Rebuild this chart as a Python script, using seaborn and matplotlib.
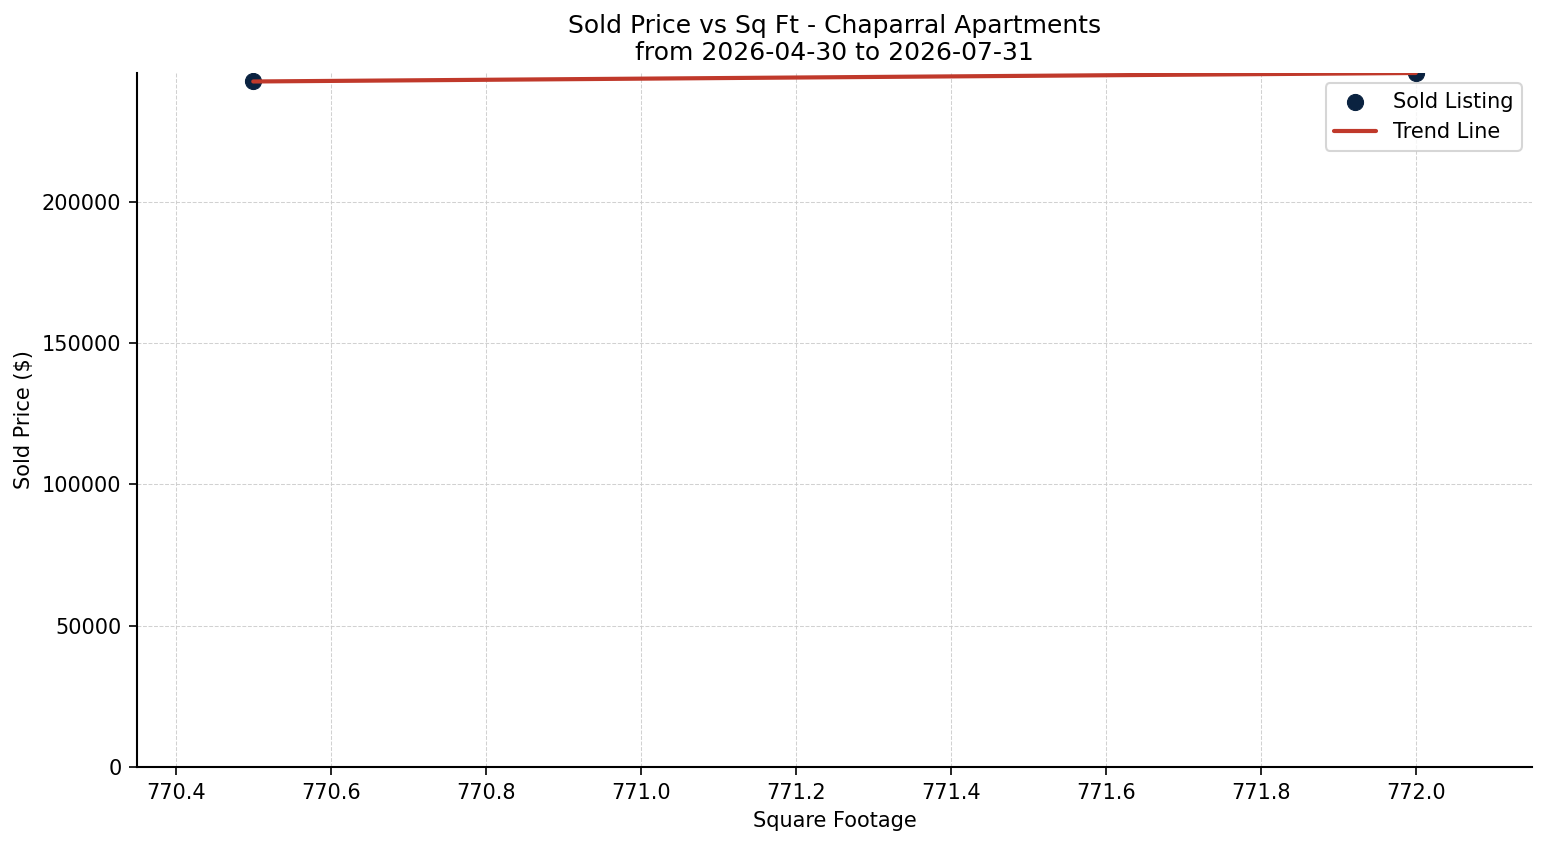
import matplotlib
matplotlib.use("Agg")
import matplotlib.pyplot as plt
import seaborn as sns
import numpy as np
import pandas as pd

sqft = [770.5, 772.0]
sold_price = [242500, 245500]
title = "Sold Price vs Sq Ft - Chaparral Apartments\nfrom 2026-04-30 to 2026-07-31"

df = pd.DataFrame({"sqft": sqft, "price": sold_price})
coef = np.polyfit(df["sqft"], df["price"], 1)
trend = pd.DataFrame({"sqft": df["sqft"], "price": np.polyval(coef, df["sqft"])})

sns.set_style("white", {"axes.edgecolor": "black", "text.color": "black",
                        "axes.labelcolor": "black", "xtick.color": "black",
                        "ytick.color": "black"})
plt.rcParams['font.family'] = ['DejaVu Sans']
fig = plt.figure(figsize=(1547/150, 845/150), dpi=150)
ax = fig.add_axes([137/1547, 1 - 767/845, (1532-137)/1547, (767-73)/845])

sns.scatterplot(data=df, x="sqft", y="price", ax=ax, color="#0a2240", s=60,
                edgecolor="#0a2240", linewidth=0.5, label="Sold Listing", zorder=3)
sns.lineplot(data=trend, x="sqft", y="price", ax=ax, color="#c0392b", linewidth=2,
             label="Trend Line", zorder=4)

ax.set_xlim(770.35, 772.15)
ax.set_ylim(0, max(sold_price))
ax.grid(True, linestyle="--", linewidth=0.5, color="#cccccc", alpha=0.9)
ax.set_axisbelow(True)
sns.despine(ax=ax)
for s in ("left", "bottom"):
    ax.spines[s].set_color("black")
    ax.spines[s].set_linewidth(1.0)
ax.tick_params(axis="both", which="both", length=4, width=0.8, labelsize=10,
               left=True, bottom=True, colors="black")
ax.set_xlabel("Square Footage", fontsize=10, color="black")
ax.set_ylabel("Sold Price ($)", fontsize=10, color="black")
ax.set_title(title, fontsize=12, color="black")
ax.ticklabel_format(axis="y", style="plain", useOffset=False)
leg = ax.legend(loc="upper right", fontsize=10, frameon=True)
for t in leg.get_texts():
    t.set_color("black")

fig.savefig("out.png", dpi=150)
